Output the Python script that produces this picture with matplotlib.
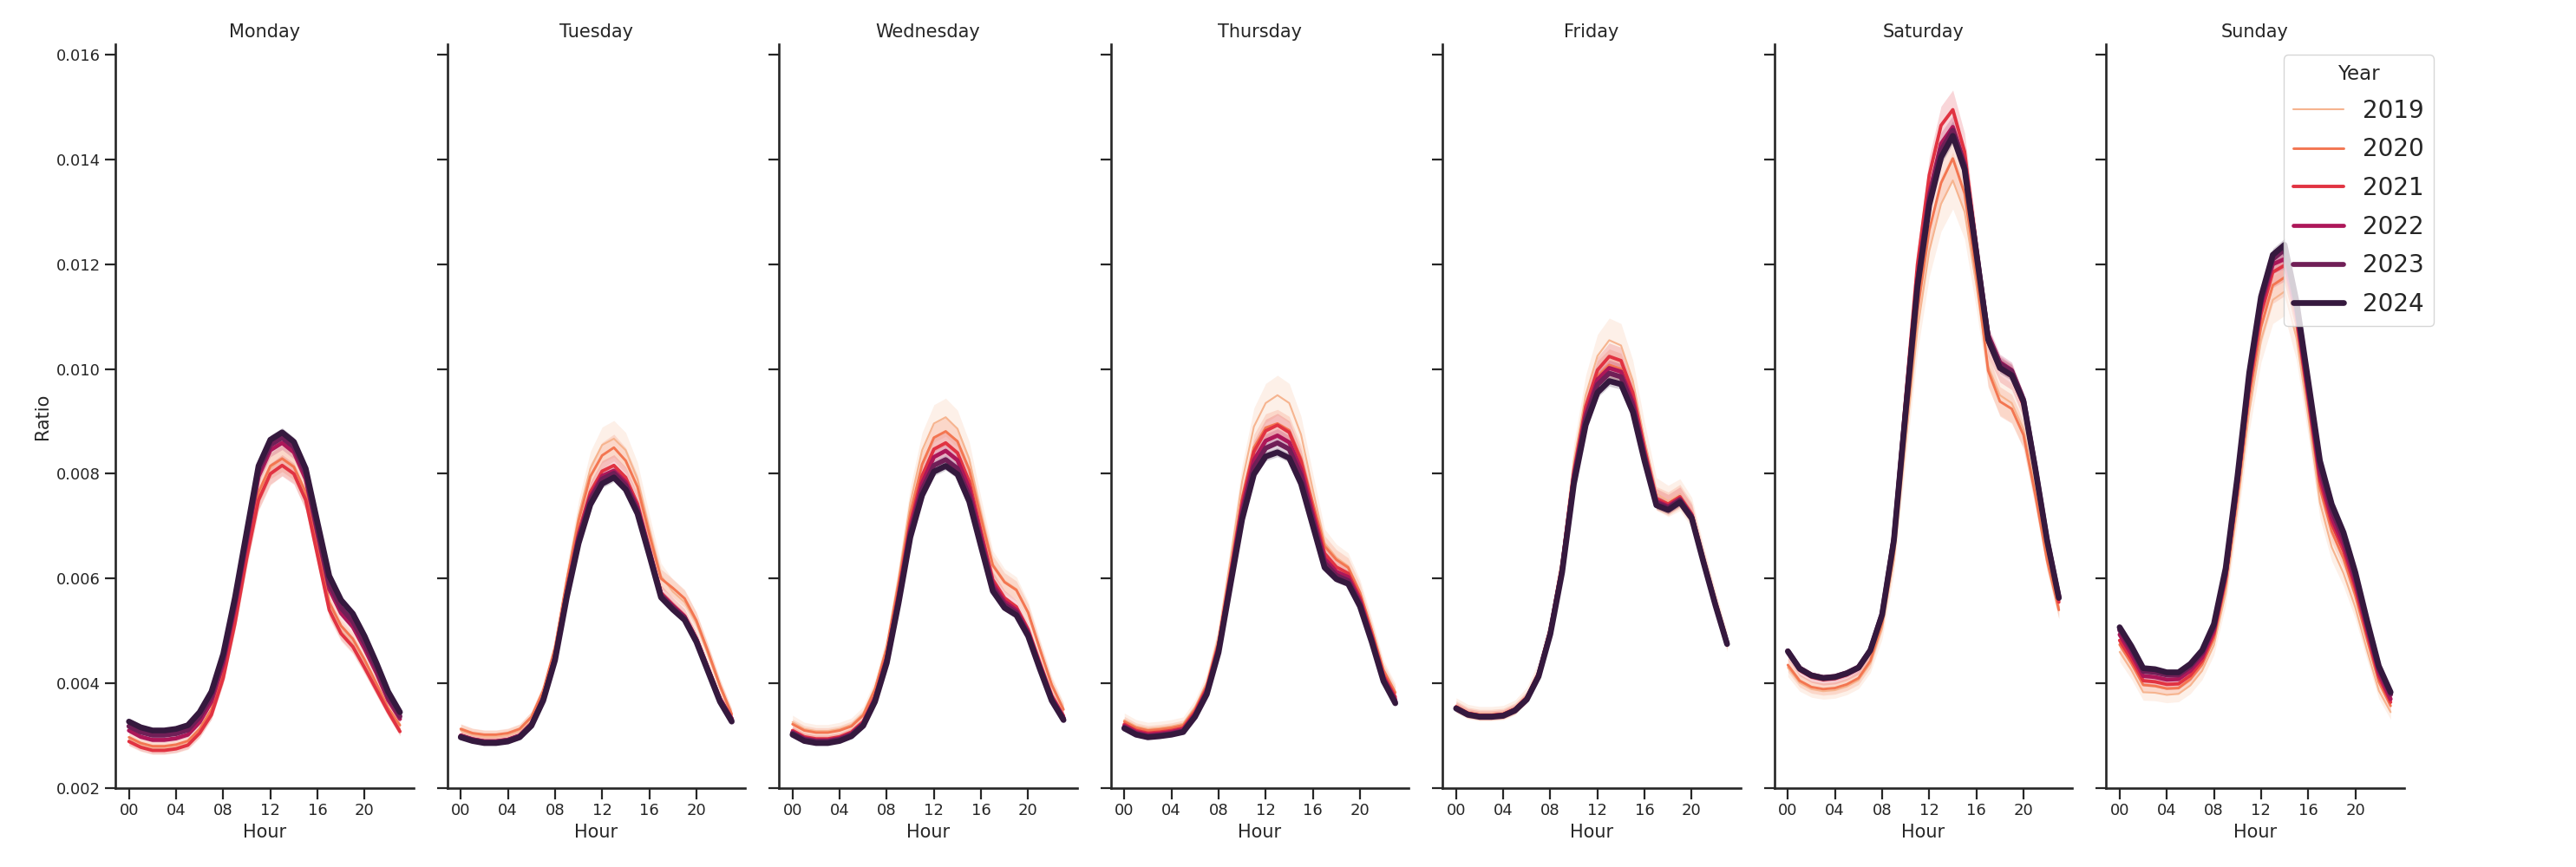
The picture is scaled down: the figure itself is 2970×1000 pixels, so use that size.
import numpy as np
import matplotlib
matplotlib.use("Agg")
import matplotlib.pyplot as plt
import seaborn as sns

sns.set_style("ticks")

days = ["Monday", "Tuesday", "Wednesday", "Thursday", "Friday", "Saturday", "Sunday"]
years = ["2019", "2020", "2021", "2022", "2023", "2024"]
hours = list(range(24))
hour_ticks = [0, 4, 8, 12, 16, 20]
hour_labels = ["00", "04", "08", "12", "16", "20"]

# mean ratio per hour, in units of 1e-4, one list per year for each day
monday = {
    "2019": [29.2, 28.1, 27.5, 27.5, 27.8, 28.5, 30.8, 34.5, 41.5, 52.0, 64.5, 76.0, 81.0, 83.0, 81.5, 76.0, 65.0, 54.5, 50.0, 47.5, 43.5, 39.2, 35.0, 31.2],
    "2020": [29.7, 28.6, 28.0, 28.0, 28.3, 29.0, 31.3, 35.0, 42.0, 52.5, 65.0, 76.5, 81.5, 82.9, 81.3, 76.5, 66.0, 55.5, 51.0, 48.5, 44.5, 40.0, 35.3, 32.0],
    "2021": [28.9, 27.8, 27.2, 27.2, 27.5, 28.2, 30.5, 34.0, 41.0, 51.5, 64.0, 75.0, 80.0, 81.6, 80.0, 75.0, 64.5, 54.0, 49.5, 47.0, 43.0, 38.8, 34.6, 30.8],
    "2022": [31.0, 29.8, 29.2, 29.2, 29.5, 30.2, 32.6, 36.5, 43.7, 54.5, 67.0, 79.5, 84.5, 85.9, 84.1, 79.0, 68.4, 58.0, 53.4, 50.8, 46.6, 42.0, 36.8, 33.2],
    "2023": [31.8, 30.7, 30.1, 30.1, 30.4, 31.1, 33.6, 37.5, 44.7, 55.5, 68.0, 80.6, 85.5, 86.9, 85.1, 80.0, 69.4, 59.0, 54.4, 51.8, 47.6, 42.9, 37.5, 33.7],
    "2024": [32.7, 31.6, 31.0, 31.0, 31.3, 32.0, 34.5, 38.4, 45.6, 56.4, 69.0, 81.5, 86.5, 87.9, 86.1, 81.0, 70.7, 60.5, 55.9, 53.3, 49.0, 43.9, 38.4, 34.5],
}
tuesday = {
    "2019": [31.0, 30.2, 29.8, 29.8, 30.1, 30.9, 33.3, 38.4, 46.8, 60.0, 72.0, 81.0, 85.5, 86.7, 84.5, 79.0, 69.5, 60.5, 57.5, 55.5, 51.5, 45.5, 39.2, 33.8],
    "2020": [31.3, 30.5, 30.2, 30.2, 30.5, 31.3, 33.6, 38.6, 46.8, 59.5, 71.0, 79.5, 83.5, 85.0, 82.5, 77.5, 68.5, 60.0, 58.2, 56.2, 52.0, 46.0, 39.6, 34.1],
    "2021": [30.1, 29.4, 29.0, 29.0, 29.3, 30.1, 32.4, 37.4, 45.3, 57.8, 68.8, 76.5, 80.5, 81.6, 79.3, 74.3, 65.8, 57.3, 55.0, 52.9, 48.6, 42.9, 37.2, 33.4],
    "2022": [30.0, 29.3, 28.9, 28.9, 29.2, 30.0, 32.3, 37.2, 45.0, 57.3, 68.0, 75.6, 79.6, 80.6, 78.4, 73.6, 65.3, 57.0, 54.8, 52.7, 48.4, 42.7, 37.0, 33.2],
    "2023": [29.9, 29.2, 28.8, 28.8, 29.1, 29.9, 32.1, 37.0, 44.8, 57.0, 67.5, 75.0, 79.0, 80.1, 77.8, 73.1, 65.0, 56.8, 54.5, 52.5, 48.2, 42.5, 36.8, 33.0],
    "2024": [29.7, 29.0, 28.6, 28.6, 28.9, 29.7, 31.9, 36.7, 44.4, 56.4, 66.7, 74.1, 78.1, 79.3, 77.0, 72.4, 64.5, 56.4, 54.1, 52.1, 47.9, 42.2, 36.5, 32.7],
}
wednesday = {
    "2019": [32.6, 31.3, 30.9, 30.9, 31.3, 32.1, 34.2, 39.2, 47.2, 60.0, 74.5, 84.5, 89.6, 90.8, 88.6, 82.8, 72.5, 62.8, 59.5, 58.0, 53.5, 46.5, 39.8, 35.0],
    "2020": [32.2, 31.0, 30.6, 30.6, 31.0, 31.8, 33.9, 38.8, 46.7, 59.0, 72.5, 81.8, 86.9, 88.1, 86.2, 80.8, 71.5, 62.5, 59.3, 57.8, 53.5, 46.5, 39.7, 35.0],
    "2021": [31.0, 29.8, 29.4, 29.4, 29.8, 30.7, 32.7, 37.5, 45.2, 57.3, 70.7, 79.6, 84.7, 85.9, 84.0, 78.5, 69.0, 59.8, 56.3, 54.6, 50.3, 43.9, 37.7, 33.8],
    "2022": [30.7, 29.5, 29.1, 29.1, 29.5, 30.4, 32.4, 37.1, 44.7, 56.5, 69.6, 78.2, 83.2, 84.4, 82.6, 77.2, 68.0, 59.0, 55.6, 54.0, 49.8, 43.4, 37.3, 33.5],
    "2023": [30.5, 29.3, 28.9, 28.9, 29.3, 30.2, 32.2, 36.8, 44.3, 55.9, 68.8, 77.0, 81.6, 82.7, 81.0, 75.8, 67.0, 58.3, 55.0, 53.5, 49.4, 43.0, 37.0, 33.2],
    "2024": [30.2, 29.0, 28.6, 28.6, 29.0, 29.9, 31.9, 36.5, 43.9, 55.3, 67.9, 75.9, 80.4, 81.5, 79.9, 74.7, 66.1, 57.6, 54.4, 53.0, 49.0, 42.7, 36.7, 33.0],
}
thursday = {
    "2019": [33.0, 31.8, 31.3, 31.5, 31.8, 32.3, 35.4, 40.2, 49.0, 63.5, 78.5, 89.0, 93.5, 95.0, 93.5, 87.5, 77.0, 66.8, 64.0, 62.4, 57.5, 50.4, 42.7, 38.4],
    "2020": [32.7, 31.5, 31.0, 31.2, 31.5, 32.0, 35.0, 39.6, 48.0, 61.5, 75.5, 85.0, 88.8, 89.6, 88.3, 83.0, 74.5, 66.2, 63.6, 62.1, 57.3, 50.2, 42.5, 38.2],
    "2021": [32.2, 31.0, 30.5, 30.7, 31.0, 31.5, 34.5, 39.1, 47.4, 60.8, 74.6, 84.2, 88.2, 89.3, 87.9, 82.4, 73.4, 64.8, 62.2, 61.0, 56.4, 49.3, 41.6, 37.4],
    "2022": [31.9, 30.7, 30.2, 30.4, 30.7, 31.2, 34.1, 38.6, 46.8, 60.0, 73.3, 82.6, 86.3, 87.3, 86.0, 80.8, 72.2, 63.8, 61.3, 60.3, 55.8, 48.8, 41.1, 36.9],
    "2023": [31.6, 30.4, 29.9, 30.1, 30.4, 30.9, 33.8, 38.2, 46.3, 59.3, 72.3, 81.3, 84.9, 85.9, 84.7, 79.6, 71.2, 63.0, 60.6, 59.6, 55.2, 48.3, 40.7, 36.5],
    "2024": [31.4, 30.2, 29.7, 29.9, 30.2, 30.7, 33.6, 37.9, 45.9, 58.7, 71.3, 79.9, 83.3, 84.1, 83.0, 78.1, 70.1, 62.1, 59.9, 59.0, 54.7, 47.9, 40.4, 36.2],
}
friday = {
    "2019": [35.8, 34.6, 34.2, 34.2, 34.4, 35.4, 37.7, 42.4, 51.0, 63.8, 82.5, 95.0, 102.5, 105.5, 104.5, 97.8, 86.3, 76.2, 74.8, 76.0, 72.6, 63.8, 55.7, 48.0],
    "2020": [35.6, 34.4, 34.0, 34.0, 34.2, 35.2, 37.4, 41.9, 50.2, 62.3, 79.9, 91.8, 98.6, 100.8, 100.0, 94.3, 84.2, 75.3, 74.3, 75.7, 72.4, 63.7, 55.6, 47.9],
    "2021": [35.5, 34.3, 33.9, 33.9, 34.1, 35.1, 37.3, 41.9, 50.3, 62.6, 80.5, 92.8, 99.8, 102.4, 101.6, 95.5, 84.8, 75.3, 74.2, 75.6, 72.3, 63.6, 55.5, 47.8],
    "2022": [35.4, 34.2, 33.8, 33.8, 34.0, 35.0, 37.1, 41.6, 49.9, 62.0, 79.6, 91.3, 98.0, 100.2, 99.5, 93.8, 83.7, 74.8, 73.8, 75.2, 72.0, 63.4, 55.3, 47.7],
    "2023": [35.3, 34.1, 33.7, 33.7, 33.9, 34.9, 37.0, 41.5, 49.7, 61.7, 79.0, 90.5, 97.0, 99.2, 98.5, 93.0, 83.2, 74.5, 73.5, 75.0, 71.8, 63.3, 55.2, 47.6],
    "2024": [35.2, 34.0, 33.6, 33.6, 33.8, 34.8, 36.9, 41.3, 49.4, 61.2, 78.1, 89.3, 95.5, 97.7, 97.1, 91.8, 82.4, 74.0, 73.1, 74.6, 71.5, 63.1, 55.0, 47.5],
}
saturday = {
    "2019": [43.0, 40.1, 38.9, 38.5, 38.7, 39.4, 40.6, 43.8, 50.5, 63.5, 86.0, 107.5, 122.5, 131.5, 136.0, 130.0, 116.0, 100.5, 95.0, 93.5, 88.5, 77.0, 64.0, 54.5],
    "2020": [43.5, 40.5, 39.3, 38.9, 39.1, 39.8, 41.0, 44.3, 51.5, 65.0, 88.5, 111.0, 126.5, 135.5, 140.2, 133.5, 118.0, 99.7, 93.8, 92.4, 87.4, 76.0, 63.5, 54.0],
    "2021": [45.8, 42.5, 41.2, 40.7, 40.9, 41.6, 42.8, 46.2, 53.5, 68.5, 94.5, 120.0, 137.0, 146.5, 149.5, 141.5, 123.5, 105.0, 100.0, 98.5, 93.0, 80.2, 66.5, 55.5],
    "2022": [46.0, 42.7, 41.4, 40.9, 41.1, 41.8, 42.9, 46.2, 53.2, 67.7, 92.8, 117.0, 133.5, 143.0, 146.2, 139.3, 122.8, 106.6, 101.3, 99.8, 94.0, 81.0, 67.3, 56.2],
    "2023": [46.2, 42.9, 41.6, 41.1, 41.3, 42.0, 43.1, 46.4, 53.3, 67.6, 92.5, 116.5, 132.5, 141.8, 145.6, 138.8, 122.6, 106.2, 101.0, 99.6, 94.2, 81.2, 67.5, 56.5],
    "2024": [46.1, 42.8, 41.5, 41.0, 41.2, 41.9, 43.0, 46.3, 53.1, 67.3, 91.9, 115.7, 131.3, 140.4, 144.5, 138.1, 122.1, 105.6, 100.2, 98.8, 93.8, 81.0, 67.3, 56.3],
}
sunday = {
    "2019": [46.0, 42.5, 38.3, 38.2, 37.8, 38.0, 39.6, 42.4, 47.3, 57.2, 73.5, 91.8, 105.5, 113.2, 114.8, 106.0, 91.0, 74.5, 66.0, 61.0, 54.5, 46.3, 38.6, 34.5],
    "2020": [47.4, 43.8, 39.7, 39.5, 39.0, 39.1, 40.8, 43.6, 48.6, 59.0, 75.8, 94.5, 108.0, 116.0, 117.5, 108.5, 93.5, 77.2, 69.0, 63.8, 56.8, 48.4, 40.3, 35.7],
    "2021": [48.2, 44.6, 40.5, 40.3, 39.8, 39.9, 41.5, 44.3, 49.4, 60.0, 77.2, 96.5, 110.5, 118.5, 119.8, 110.0, 94.5, 78.6, 70.5, 65.3, 58.2, 49.5, 41.2, 36.4],
    "2022": [49.3, 45.6, 41.4, 41.2, 40.7, 40.8, 42.4, 45.0, 50.1, 60.7, 78.1, 97.5, 112.0, 120.0, 121.0, 111.0, 95.5, 79.8, 71.6, 66.4, 59.2, 50.4, 42.0, 37.0],
    "2023": [50.2, 46.5, 42.3, 42.1, 41.6, 41.6, 43.2, 45.8, 50.8, 61.3, 78.8, 98.5, 113.0, 121.0, 122.8, 112.2, 96.8, 81.3, 73.0, 67.7, 60.3, 51.3, 42.8, 37.9],
    "2024": [50.7, 47.1, 42.9, 42.7, 42.1, 42.1, 43.7, 46.3, 51.3, 62.0, 79.5, 99.3, 113.8, 121.8, 123.7, 113.0, 97.8, 82.5, 74.2, 68.8, 61.2, 52.0, 43.3, 38.3],
}
day_data = [monday, tuesday, wednesday, thursday, friday, saturday, sunday]

# relative half width of the confidence band per year
ci_frac = [0.04, 0.03, 0.025, 0.015, 0.012, 0.01]

colors = sns.color_palette("rocket_r", len(years))
widths = [1.5, 2.1, 2.8, 3.4, 4.1, 4.8]

fig, axes = plt.subplots(1, 7, figsize=(29.7, 10), dpi=100, sharey=True)
fig.subplots_adjust(left=0.0448, right=0.9333, bottom=0.091, top=0.949, wspace=0.113)

handles = []
for ax, day, data in zip(axes, days, day_data):
    for i, yr in enumerate(years):
        v = np.array(data[yr]) / 10000
        ax.fill_between(hours, v * (1 - ci_frac[i]), v * (1 + ci_frac[i]),
                        color=colors[i], alpha=0.2, linewidth=0)
        ln, = ax.plot(hours, v, color=colors[i], lw=widths[i], label=yr)
        if day == "Monday":
            handles.append(ln)
    ax.set_title(day, fontsize=15, color="#262626")
    ax.set_xlabel("Hour", fontsize=15)
    ax.set_xticks(hour_ticks)
    ax.set_xticklabels(hour_labels)
    ax.tick_params(labelsize=13, length=9, width=1.6, colors="#262626")
    for s in ["left", "bottom"]:
        ax.spines[s].set_linewidth(1.9)
        ax.spines[s].set_color("#262626")
    sns.despine(ax=ax)

axes[0].set_ylim(0.002, 0.0162)
axes[0].set_yticks([0.002, 0.004, 0.006, 0.008, 0.010, 0.012, 0.014, 0.016])
axes[0].set_yticklabels(["0.002", "0.004", "0.006", "0.008", "0.010", "0.012", "0.014", "0.016"])
axes[0].set_ylabel("Ratio", fontsize=15)

leg = fig.legend(handles, years, title="Year", loc="upper right",
                 bbox_to_anchor=(0.9448, 0.937), borderaxespad=0,
                 fontsize=20, title_fontsize=16.5, labelspacing=0.6,
                 handlelength=2.1, handletextpad=0.8, frameon=True)

fig.savefig("out.png", dpi=100)
